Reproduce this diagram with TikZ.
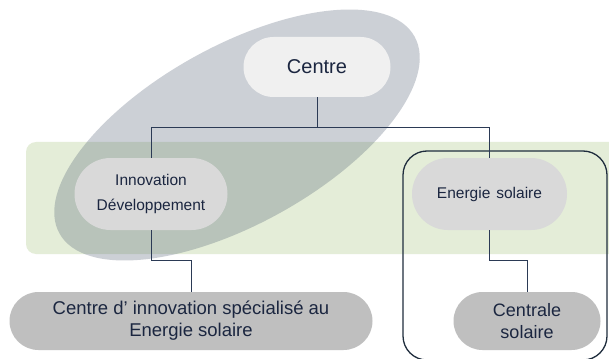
\documentclass[tikz,border=0pt]{standalone}
\usepackage{fontspec}
\setmainfont{Liberation Sans}
\usetikzlibrary{positioning}
\definecolor{bandgreen}{HTML}{E4EDD8}
\definecolor{ellcol}{HTML}{44546A}
\definecolor{txtcol}{HTML}{1B2640}
\definecolor{linecol}{HTML}{2B3A55}
\definecolor{framecol}{HTML}{1F2D3D}
\definecolor{lightfill}{HTML}{F0F0F0}
\definecolor{midfill}{HTML}{D9D9D9}
\definecolor{darkfill}{HTML}{BFBFBF}
\tikzset{
  pill/.style={inner sep=0pt, align=center, text=txtcol},
  connector/.style={draw=linecol, line width=1pt},
}
\begin{document}
\begin{tikzpicture}[x=1pt,y=-1pt]
\clip (0,0) rectangle (609,358);
\fill[white] (0,0) rectangle (609,358);
% green band
\fill[bandgreen, rounded corners=10pt] (26,142) rectangle (620,254);
% ellipse
\coordinate (el) at (237,135);
\fill[ellcol, opacity=0.27, rotate around={29:(el)}] (el) ellipse [x radius=203pt, y radius=89pt];
% frame
\draw[framecol, line width=1.3pt, rounded corners=24pt] (403,151) rectangle (607,360);
% nodes
\node[pill, fill=lightfill, minimum width=147pt, minimum height=60pt, rounded corners=30pt,
      font=\fontsize{20}{24}\selectfont] (centre) at (317,67) {Centre};
\node[pill, fill=midfill, minimum width=153pt, minimum height=72pt, rounded corners=36pt,
      font=\fontsize{15.5}{25}\selectfont] (innov) at (151,194) {Innovation\\Développement};
\node[pill, fill=midfill, minimum width=155pt, minimum height=72pt, rounded corners=36pt,
      font=\fontsize{15.5}{18}\selectfont] (ener) at (489.5,194) {Energie\hspace{6pt}solaire};
\node[pill, fill=darkfill, minimum width=363pt, minimum height=58pt, rounded corners=29pt,
      font=\fontsize{18.5}{22}\selectfont] (big) at (191,321) {Centre d’ innovation spécialisé au\\Energie solaire};
\node[pill, fill=darkfill, minimum width=147pt, minimum height=58pt, rounded corners=29pt,
      font=\fontsize{18}{22}\selectfont] (centrale) at (527,321) {Centrale\\solaire};
% connectors
\draw[connector] (centre.south) -- ++(0,30) -| (innov.north);
\draw[connector] (centre.south) -- ++(0,30) -| (ener.north);
\draw[connector] (innov.south) -- ++(0,30) -| (big.north);
\draw[connector] (ener.south) -- ++(0,30) -| (centrale.north);
\end{tikzpicture}
\end{document}
